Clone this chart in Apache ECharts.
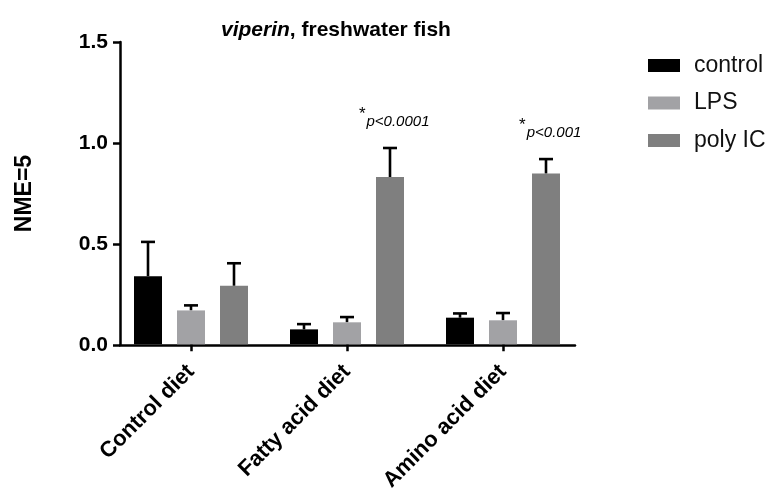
<!DOCTYPE html>
<html><head><meta charset="utf-8">
<script src="https://cdn.jsdelivr.net/npm/echarts@6/dist/echarts.min.js"></script>
<style>html,body{margin:0;padding:0;background:#fff}#c{width:772px;height:494px}</style>
</head><body><div id="c"></div>
<script>
const categories = ['Control diet', 'Fatty acid diet', 'Amino acid diet'];
const seriesNames = ['control', 'LPS', 'poly IC'];
const controlMean = [0.338, 0.074, 0.132];
const controlErr  = [0.170, 0.026, 0.021];
const lpsMean     = [0.168, 0.109, 0.119];
const lpsErr      = [0.025, 0.026, 0.036];
const polyMean    = [0.290, 0.830, 0.847];
const polyErr     = [0.112, 0.144, 0.072];
const yTicks = [0, 0.5, 1.0, 1.5];
const yAxisTitle = 'NME=5';
// annotations: [category index, series index, text]
const annotations = [[1, 2, 'p<0.0001'], [2, 2, 'p<0.001']];

const colors = ['#000000', '#a2a2a5', '#7f7f7f'];
const BAR_W = 28, BAR_SPACE = 15;
const means = [controlMean, lpsMean, polyMean];
const errs = [controlErr, lpsErr, polyErr];

const errData = [];
means.forEach((m, s) => m.forEach((v, c) => errData.push([c, s, v, v + errs[s][c]])));
const annData = annotations.map(a => [a[0], a[1], means[a[1]][a[0]] + errs[a[1]][a[0]], a[2]]);

const ANN_FONT = 'italic 15px "Liberation Sans"';
const mctx = document.createElement('canvas').getContext('2d');
function textW(t, f) { mctx.font = f; return mctx.measureText(t).width; }

const chart = echarts.init(document.getElementById('c'), null, {renderer: 'canvas'});
const AX = '#000';
chart.setOption({
  animation: false,
  backgroundColor: '#fff',
  title: {
    text: '{i|viperin}{b|, freshwater fish}',
    left: 216, top: 15,
    textStyle: {rich: {
      i: {fontFamily: 'Liberation Sans', fontSize: 21, fontWeight: 'bold', fontStyle: 'italic', color: '#000'},
      b: {fontFamily: 'Liberation Sans', fontSize: 21, fontWeight: 'bold', color: '#000'}
    }}
  },
  legend: {
    orient: 'vertical', left: 643, top: 49,
    itemWidth: 32, itemHeight: 13, itemGap: 14.5,
    icon: 'rect',
    data: seriesNames,
    textStyle: {fontFamily: 'Liberation Sans', fontSize: 23, color: '#111', padding: [0, 0, 0, 9], lineHeight: 23}
  },
  grid: [
    {left: 113, right: 191, top: 42, bottom: 149},
    {left: 120, right: 197, top: 42, bottom: 149}
  ],
  xAxis: [
    {type: 'category', gridIndex: 0, data: categories,
     axisLine: {show: false},
     axisTick: {show: true, alignWithLabel: true, length: 7, lineStyle: {color: AX, width: 2.5}},
     axisLabel: {rotate: 45, margin: 24, fontFamily: 'Liberation Sans', fontSize: 22, fontWeight: 'bold', color: '#000'}},
    {type: 'value', gridIndex: 1, min: 0, max: 1,
     axisLine: {show: true, lineStyle: {color: AX, width: 2.5}},
     axisTick: {show: false}, axisLabel: {show: false}, splitLine: {show: false}}
  ],
  yAxis: [
    {type: 'value', gridIndex: 0, min: 0, max: 1.5, show: false},
    {type: 'value', gridIndex: 1, min: 0, max: 1.5, interval: 0.5,
     name: yAxisTitle, nameLocation: 'middle', nameGap: 84, nameRotate: 90,
     nameTextStyle: {fontFamily: 'Liberation Sans', fontSize: 23, fontWeight: 'bold', color: '#000'},
     axisLine: {show: true, lineStyle: {color: AX, width: 2.5}},
     axisTick: {show: true, length: 7, lineStyle: {color: AX, width: 2.5}},
     axisLabel: {margin: 12, fontFamily: 'Liberation Sans', fontSize: 21, fontWeight: 'bold', color: '#000',
       formatter: v => yTicks.includes(v) ? v.toFixed(1) : ''},
     splitLine: {show: false}}
  ],
  series: [
    ...seriesNames.map((n, i) => ({
      name: n, type: 'bar', xAxisIndex: 0, yAxisIndex: 0,
      barWidth: BAR_W, barGap: (BAR_SPACE / BAR_W * 100) + '%',
      itemStyle: {color: colors[i]}, data: means[i], z: 2
    })),
    {
      type: 'custom', xAxisIndex: 0, yAxisIndex: 0, data: errData, z: 1,
      encode: {x: 0, y: 3},
      renderItem: (params, api) => {
        const c = api.value(0), s = api.value(1);
        const dx = (s - 1) * (BAR_W + BAR_SPACE);
        const p0 = api.coord([c, api.value(2)]);
        const p1 = api.coord([c, api.value(3)]);
        const x = p0[0] + dx;
        const st = {stroke: '#000', lineWidth: 2.6};
        return {type: 'group', children: [
          {type: 'line', shape: {x1: x, y1: p0[1], x2: x, y2: p1[1]}, style: st},
          {type: 'line', shape: {x1: x - 7, y1: p1[1], x2: x + 7, y2: p1[1]}, style: st}
        ]};
      }
    },
    {
      type: 'custom', xAxisIndex: 0, yAxisIndex: 0, data: annData, z: 3,
      encode: {x: 0, y: 2},
      renderItem: (params, api) => {
        const c = api.value(0), s = api.value(1);
        const dx = (s - 1) * (BAR_W + BAR_SPACE);
        const p = api.coord([c, api.value(2)]);
        const txt = annData[params.dataIndex][3];
        const w = textW(txt, ANN_FONT);
        const xc = p[0] + dx + 8;
        return {type: 'group', children: [
          {type: 'text', x: xc, y: p[1] - 19, style: {
            text: txt, align: 'center', verticalAlign: 'bottom',
            fontFamily: 'Liberation Sans', fontSize: 15, fontStyle: 'italic', fill: '#000'}},
          {type: 'text', x: xc - w / 2 - 1, y: p[1] - 42, style: {
            text: '*', align: 'right', verticalAlign: 'top',
            fontFamily: 'Liberation Sans', fontSize: 17, fill: '#000'}}
        ]};
      }
    }
  ]
});
</script></body></html>
